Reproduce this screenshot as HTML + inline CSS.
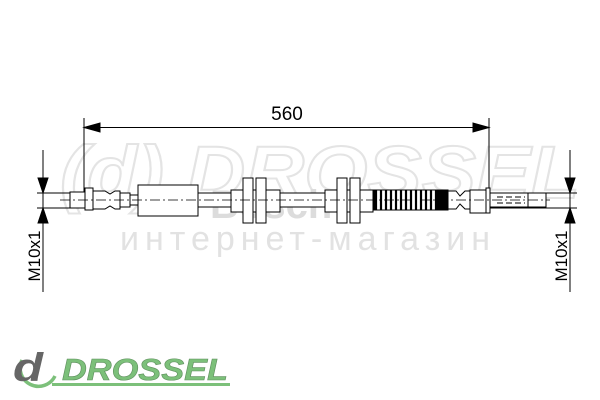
<!DOCTYPE html>
<html><head><meta charset="utf-8"><style>
html,body{margin:0;padding:0;background:#fff;width:600px;height:400px;overflow:hidden}
svg{display:block}
</style></head><body>
<svg width="600" height="400" viewBox="0 0 600 400" xmlns="http://www.w3.org/2000/svg" font-family="Liberation Sans, sans-serif">
<!-- watermark -->
<text x="60" y="198" font-size="74" font-style="italic" font-weight="bold" fill="none" stroke="#e4e4e4" stroke-width="2" textLength="520" lengthAdjust="spacingAndGlyphs">(d) DROSSEL</text>
<text x="120" y="250" font-size="34" fill="#e2e2e2" letter-spacing="6">интернет-магазин</text>
<text x="210" y="218" font-size="40" font-weight="bold" fill="#dcdcdc">Bosch</text>

<g stroke="#000" stroke-width="1" fill="#fff">
<line x1="84" y1="118" x2="84" y2="192"/>
<line x1="489" y1="118" x2="489" y2="192"/>
<line x1="84" y1="127.5" x2="489" y2="127.5"/>
<polygon points="84,127.5 100,123 100,132" fill="#000"/>
<polygon points="489,127.5 473,123 473,132" fill="#000"/>
<line x1="43" y1="150" x2="43" y2="292"/>
<line x1="37" y1="193" x2="72" y2="193"/>
<line x1="37" y1="208" x2="72" y2="208"/>
<polygon points="43,193 38,178 48,178" fill="#000"/>
<polygon points="43,208 38,223 48,223" fill="#000"/>
<line x1="570" y1="150" x2="570" y2="292"/>
<line x1="490" y1="193" x2="577" y2="193"/>
<line x1="490" y1="208" x2="577" y2="208"/>
<polygon points="570,193 565,178 575,178" fill="#000"/>
<polygon points="570,208 565,223 575,223" fill="#000"/>

<rect x="70" y="192" width="16" height="16"/>
<rect x="85" y="188" width="8" height="22"/>
<path d="M93,191 L105,191 L110,194 L115,191 L120,191 L120,209 L115,209 L110,206 L105,209 L93,209 Z"/>
<rect x="120" y="193" width="10" height="14"/>
<rect x="130" y="195" width="8" height="10"/>
<rect x="138" y="185" width="60" height="31"/>
<rect x="198" y="193" width="33" height="14"/>
<rect x="231" y="190" width="49" height="22"/>
<rect x="243" y="178" width="10" height="45"/>
<rect x="256" y="178" width="10" height="45"/>
<rect x="280" y="193" width="45" height="14"/>
<rect x="325" y="190" width="48" height="22"/>
<rect x="337" y="178" width="10" height="45"/>
<rect x="350" y="178" width="10" height="45"/>
<rect x="373" y="190" width="75" height="20" fill="#fff"/>
<path d="M448,191 L456,191 L460,196 L465,191 L470,191 L470,209 L465,209 L460,204 L456,209 L448,209 Z"/>
<rect x="470" y="190" width="17" height="23"/>
<rect x="486" y="188" width="4" height="25"/>
<rect x="490" y="193" width="38" height="14"/>
<rect x="528" y="193" width="18" height="14"/>
</g>
<g stroke="#000" stroke-width="2.2">
<path d="M376,190 v20 M381,190 v20 M386,190 v20 M391,190 v20 M396,190 v20 M401,190 v20 M406,190 v20 M411,190 v20 M416,190 v20 M421,190 v20 M426,190 v20 M431,190 v20 M436,190 v20 M441,190 v20 M446,190 v20"/>
</g>
<rect x="373" y="190" width="4" height="20" fill="#000"/>
<rect x="436" y="190" width="12" height="20" fill="#000"/>
<line x1="60" y1="200" x2="550" y2="200" stroke="#000" stroke-width="0.8" stroke-dasharray="10,3,2,3"/>
<g stroke="#000" stroke-width="1"><line x1="497" y1="197" x2="525" y2="197" stroke-dasharray="6,3"/><line x1="497" y1="203" x2="525" y2="203" stroke-dasharray="6,3"/></g>

<text x="287" y="120" font-size="19" text-anchor="middle" fill="#000">560</text>
<text transform="translate(40,256) rotate(-90)" font-size="17" text-anchor="middle" fill="#000">M10x1</text>
<text transform="translate(567,256) rotate(-90)" font-size="17" text-anchor="middle" fill="#000">M10x1</text>

<!-- logo -->
<path d="M22,360 A18,18 0 1 0 55,376" fill="none" stroke="#7cc07a" stroke-width="3.5"/>
<text x="13" y="381" font-size="40" font-weight="bold" font-style="italic" fill="#666" textLength="30" lengthAdjust="spacingAndGlyphs">d</text>
<text x="62" y="380" font-size="31" font-weight="bold" font-style="italic" fill="#7cc07a" stroke="#5f8f5e" stroke-width="0.6" textLength="166" lengthAdjust="spacingAndGlyphs">DROSSEL</text>
<rect x="52" y="383" width="178" height="3" fill="#7cc07a"/>
</svg>
</body></html>
